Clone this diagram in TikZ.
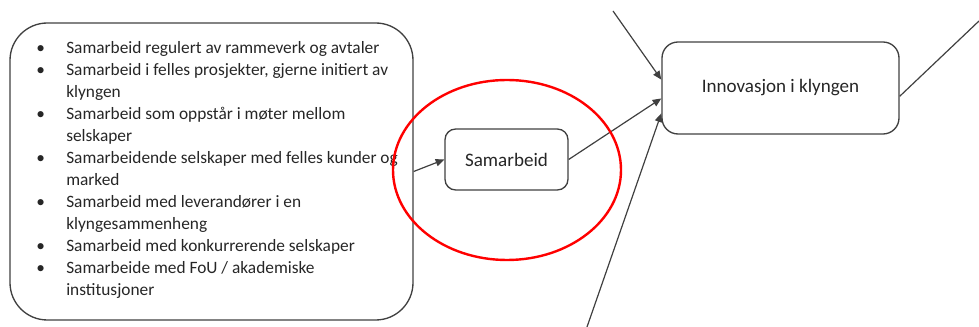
\documentclass[tikz,border=0pt]{standalone}
\usepackage{fontspec}
\setmainfont{Carlito}
\usepackage{tikz}
\usetikzlibrary{positioning}
\usetikzlibrary{arrows.meta}

\newcommand{\listfont}{\fontsize{13}{16.5}\selectfont}
\newcommand{\boxfont}{\fontsize{14.3}{17}\selectfont}
\newcommand{\itm}{\makebox[22.5pt][l]{\textbullet}}
\newcommand{\cnt}{\hspace*{22.5pt}}

\tikzset{
  box/.style={draw=black!75, line width=1pt, rounded corners=8pt, font=\boxfont, text=black!85},
  con/.style={draw=black!75, line width=0.9pt, -{Triangle[length=6.5pt,width=5.5pt]}},
  line/.style={draw=black!75, line width=0.9pt},
}

\begin{document}
\begin{tikzpicture}[x=0.75pt,y=-0.75pt]
\useasboundingbox (0,0) rectangle (979,327);
\node[box, rounded corners=28pt, minimum width=302.25pt, minimum height=222.75pt] (list) at (211.5,171.5) {};
\node[anchor=north west, inner sep=0pt, align=left, font=\listfont, text=black!85] (items) at (36,41) {%
\itm Samarbeid regulert av rammeverk og avtaler\\
\itm Samarbeid i felles prosjekter, gjerne initiert av\\
\cnt klyngen\\
\itm Samarbeid som oppstår i møter mellom\\
\cnt selskaper\\
\itm Samarbeidende selskaper med felles kunder og\\
\cnt marked\\
\itm Samarbeid med leverandører i en\\
\cnt klyngesammenheng\\
\itm Samarbeid med konkurrerende selskaper\\
\itm Samarbeide med FoU / akademiske\\
\cnt institusjoner};
\node[box, minimum width=92.25pt, minimum height=45.75pt] (samarb) at (506.5,159.5) {Samarbeid};
\node[box, rounded corners=12pt, minimum width=177.75pt, minimum height=69pt] (innov) at (780.5,88) {Innovasjon i klyngen};
\coordinate (ctop) at (613,11);
\coordinate (cbot) at (587,327);
\coordinate (cright) at (979,21);
\draw[con] (list.east) -- (samarb.west);
\draw[con] (samarb.east) -- (innov.185);
\draw[con] (ctop) -- (innov.176);
\draw[con] (cbot) -- (innov.192);
\draw[line] (innov.356) -- (cright);
% marking
\draw[red, line width=1.8pt] (507,170) ellipse [x radius=85.5pt, y radius=67.5pt];
\end{tikzpicture}
\end{document}
